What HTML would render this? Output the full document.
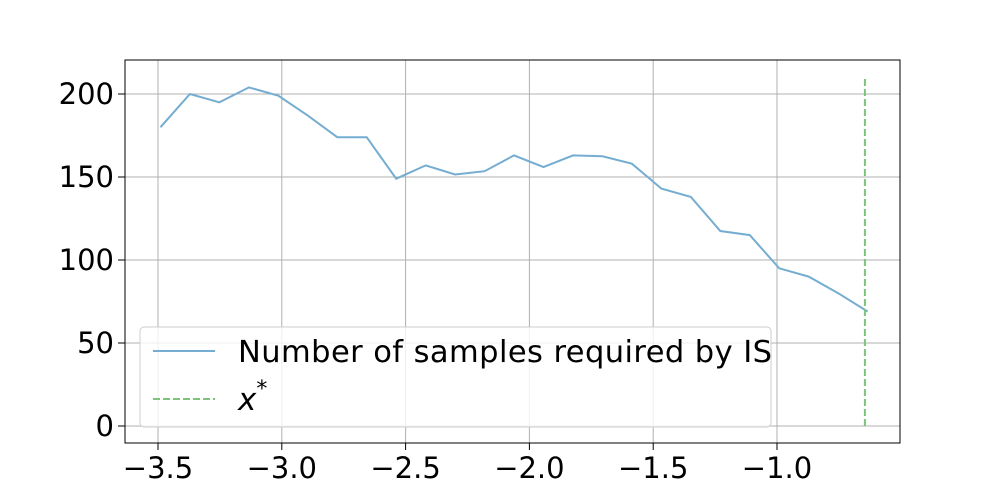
<!DOCTYPE html>
<html><head><meta charset="utf-8"><style>
body{margin:0;background:#fff}
svg text{font-family:"DejaVu Sans","Liberation Sans",sans-serif;fill:#000}
</style></head><body>
<svg width="1000" height="498" id="c">
<rect x="0" y="0" width="1000" height="498" fill="#fff"/>
<g id="grid"></g>
<g id="ticks"></g>
<g id="series"></g>
<rect x="125" y="60" width="775" height="383" fill="none" stroke="#000" stroke-width="1"/>
<g>
<rect x="140" y="327" width="631" height="100" rx="4" fill="#fff" fill-opacity="0.8" stroke="#ccc"/>
<line x1="153" y1="351" x2="215" y2="351" stroke="#74add1" stroke-width="2"/>
<text x="238" y="362" font-size="30.5" textLength="534">Number of samples required by IS</text>
<line x1="153" y1="399" x2="215" y2="399" stroke="#7cc47a" stroke-width="2" stroke-dasharray="7,3"/>
<text x="238" y="410" font-size="31" font-style="italic">x<tspan font-size="22" dy="-14" font-style="normal">*</tspan></text>
</g>
</svg>
<script>
const yValues=[180,200,195,204,199,187,174,174,149,157,151.5,153.5,163,156,163,162.5,158,143,138,117.5,115,95,90,80,69];
const xStart=-3.49, xStep=0.119;
const xTicks=[-3.5,-3.0,-2.5,-2.0,-1.5,-1.0];
const xTickLabels=["−3.5","−3.0","−2.5","−2.0","−1.5","−1.0"];
const yTicks=[0,50,100,150,200];
const xStar=-0.645;
const xs=v=>158+(v+3.5)*247.6;
const ys=v=>426-v*1.66;
const NS="http://www.w3.org/2000/svg";
function mk(tag,attrs,parent){const e=document.createElementNS(NS,tag);for(const k in attrs)e.setAttribute(k,attrs[k]);document.getElementById(parent).appendChild(e);return e;}
xTicks.forEach((t,i)=>{
 const g=mk('line',{x1:xs(t),x2:xs(t),y1:60,y2:443,stroke:'#b0b0b0','stroke-width':1},'grid');
 
 
 const tk=mk('line',{x1:xs(t),x2:xs(t),y1:443,y2:450,stroke:'#000'},'ticks');
 
 
 const l=mk('text',{x:xs(t),y:478,'font-size':29,'text-anchor':'middle'},'ticks');l.textContent=xTickLabels[i];
 
 
});
yTicks.forEach(t=>{
 const g=mk('line',{x1:125,x2:900,y1:ys(t),y2:ys(t),stroke:'#b0b0b0','stroke-width':1},'grid');
 
 
 const tk=mk('line',{x1:118,x2:125,y1:ys(t),y2:ys(t),stroke:'#000'},'ticks');
 
 
 const l=mk('text',{x:114,y:ys(t)+10,'font-size':29,'text-anchor':'end'},'ticks');l.textContent=String(t);
 
 
});
const pts=yValues.map((v,i)=>xs(xStart+i*xStep).toFixed(1)+','+ys(v).toFixed(1)).join(' ');
const pl=mk('polyline',{points:pts,fill:'none',stroke:'#74add1','stroke-width':2},'series');


const vl=mk('line',{x1:xs(xStar),x2:xs(xStar),y1:ys(0),y2:ys(210),stroke:'#7cc47a','stroke-width':2,'stroke-dasharray':'7,3'},'series');


</script>
</body></html>
